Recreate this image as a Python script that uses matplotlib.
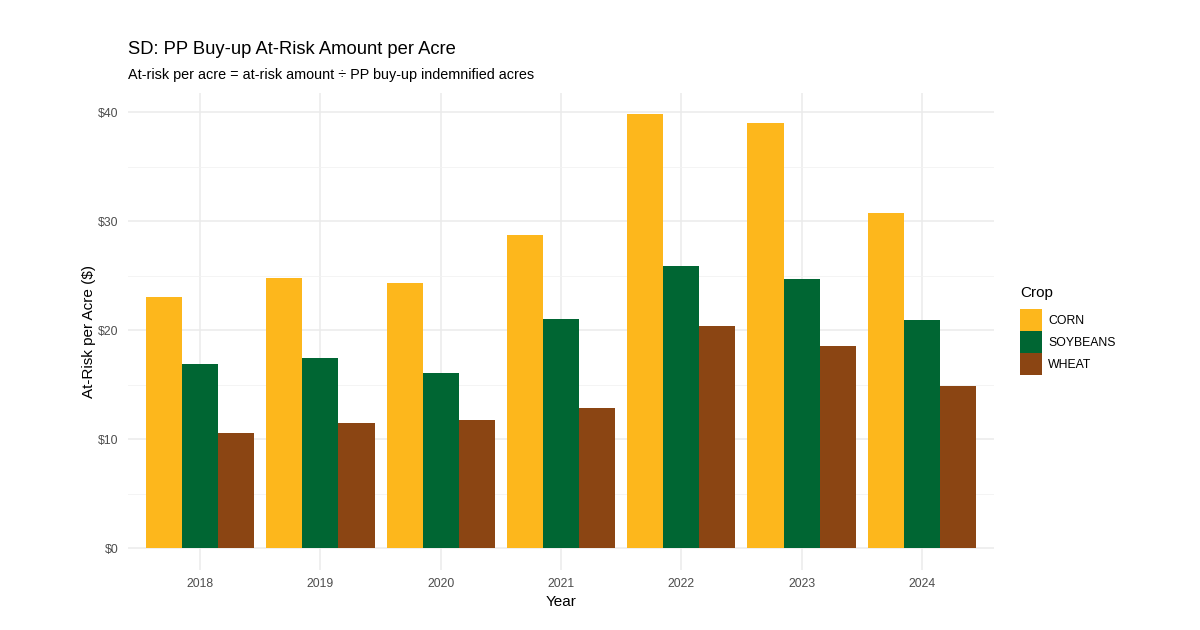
import numpy as np
import matplotlib
matplotlib.use("Agg")
import matplotlib.pyplot as plt
from matplotlib.ticker import MultipleLocator, FuncFormatter

plt.rcParams['font.family'] = ['Liberation Sans', 'DejaVu Sans']

# datos
years = ['2018', '2019', '2020', '2021', '2022', '2023', '2024']
crops = ['CORN', 'SOYBEANS', 'WHEAT']
corn = [23.08, 24.77, 24.31, 28.78, 39.82, 39.05, 30.73]
soybeans = [16.88, 17.43, 16.11, 21.04, 25.93, 24.68, 20.94]
wheat = [10.55, 11.52, 11.77, 12.84, 20.42, 18.59, 14.92]
colors = ['#FDB71C', '#006633', '#8B4513']

series = [corn, soybeans, wheat]

fig = plt.figure(figsize=(12, 6.3), dpi=100)
ax = fig.add_axes([128/1200, 1-570/630, (994-128)/1200, (570-92.5)/630])

x = np.arange(len(years))
w = 0.3
bars = []
for k, (vals, c) in enumerate(zip(series, colors)):
    b = ax.bar(x + (k-1)*w, vals, width=w, color=c, linewidth=0, zorder=2)
    bars.append(b)

# ejes estilo theme_minimal
ymax = max(max(s) for s in series)
ax.set_ylim(-0.05*ymax, 1.05*ymax)
ax.set_xlim(-0.6, len(years)-1+0.6)
ax.set_xticks(x)
ax.set_xticklabels(years)
ax.yaxis.set_major_locator(MultipleLocator(10))
ax.yaxis.set_minor_locator(MultipleLocator(5))
ax.yaxis.set_major_formatter(FuncFormatter(lambda v, p: '$%d' % v))

ax.grid(which='major', axis='both', color='#EBEBEB', linewidth=1.1, zorder=0)
ax.grid(which='minor', axis='y', color='#F2F2F2', linewidth=0.6, zorder=0)
ax.set_axisbelow(True)
for s in ax.spines.values():
    s.set_visible(False)
ax.tick_params(which='both', length=0, labelsize=8.8, labelcolor='#4D4D4D')
ax.tick_params(axis='y', pad=7)
ax.tick_params(axis='x', pad=6)

ax.set_xlabel('Year', fontsize=11, labelpad=3)
ax.set_ylabel('At-Risk per Acre ($)', fontsize=11, labelpad=1)

fig.text(128/1200, 1-50/630, 'SD: PP Buy-up At-Risk Amount per Acre',
         fontsize=13.2, ha='left', va='center')
fig.text(128/1200, 1-75/630, 'At-risk per acre = at-risk amount \u00f7 PP buy-up indemnified acres',
         fontsize=10.4, ha='left', va='center')

# leyenda
fig.text(1020/1200, 1-293/630, 'Crop', fontsize=11, ha='left', va='center')
fs = 8.8
key = 22/(fs*100/72)
fig.legend([b[0] for b in bars], crops, loc='upper left',
           bbox_to_anchor=(1020/1200, 1-309/630), frameon=False,
           fontsize=fs, handlelength=key, handleheight=(key-0.245)/0.65,
           labelspacing=0, handletextpad=0.5, borderpad=0, borderaxespad=0)

fig.savefig('out.png', dpi=100)
